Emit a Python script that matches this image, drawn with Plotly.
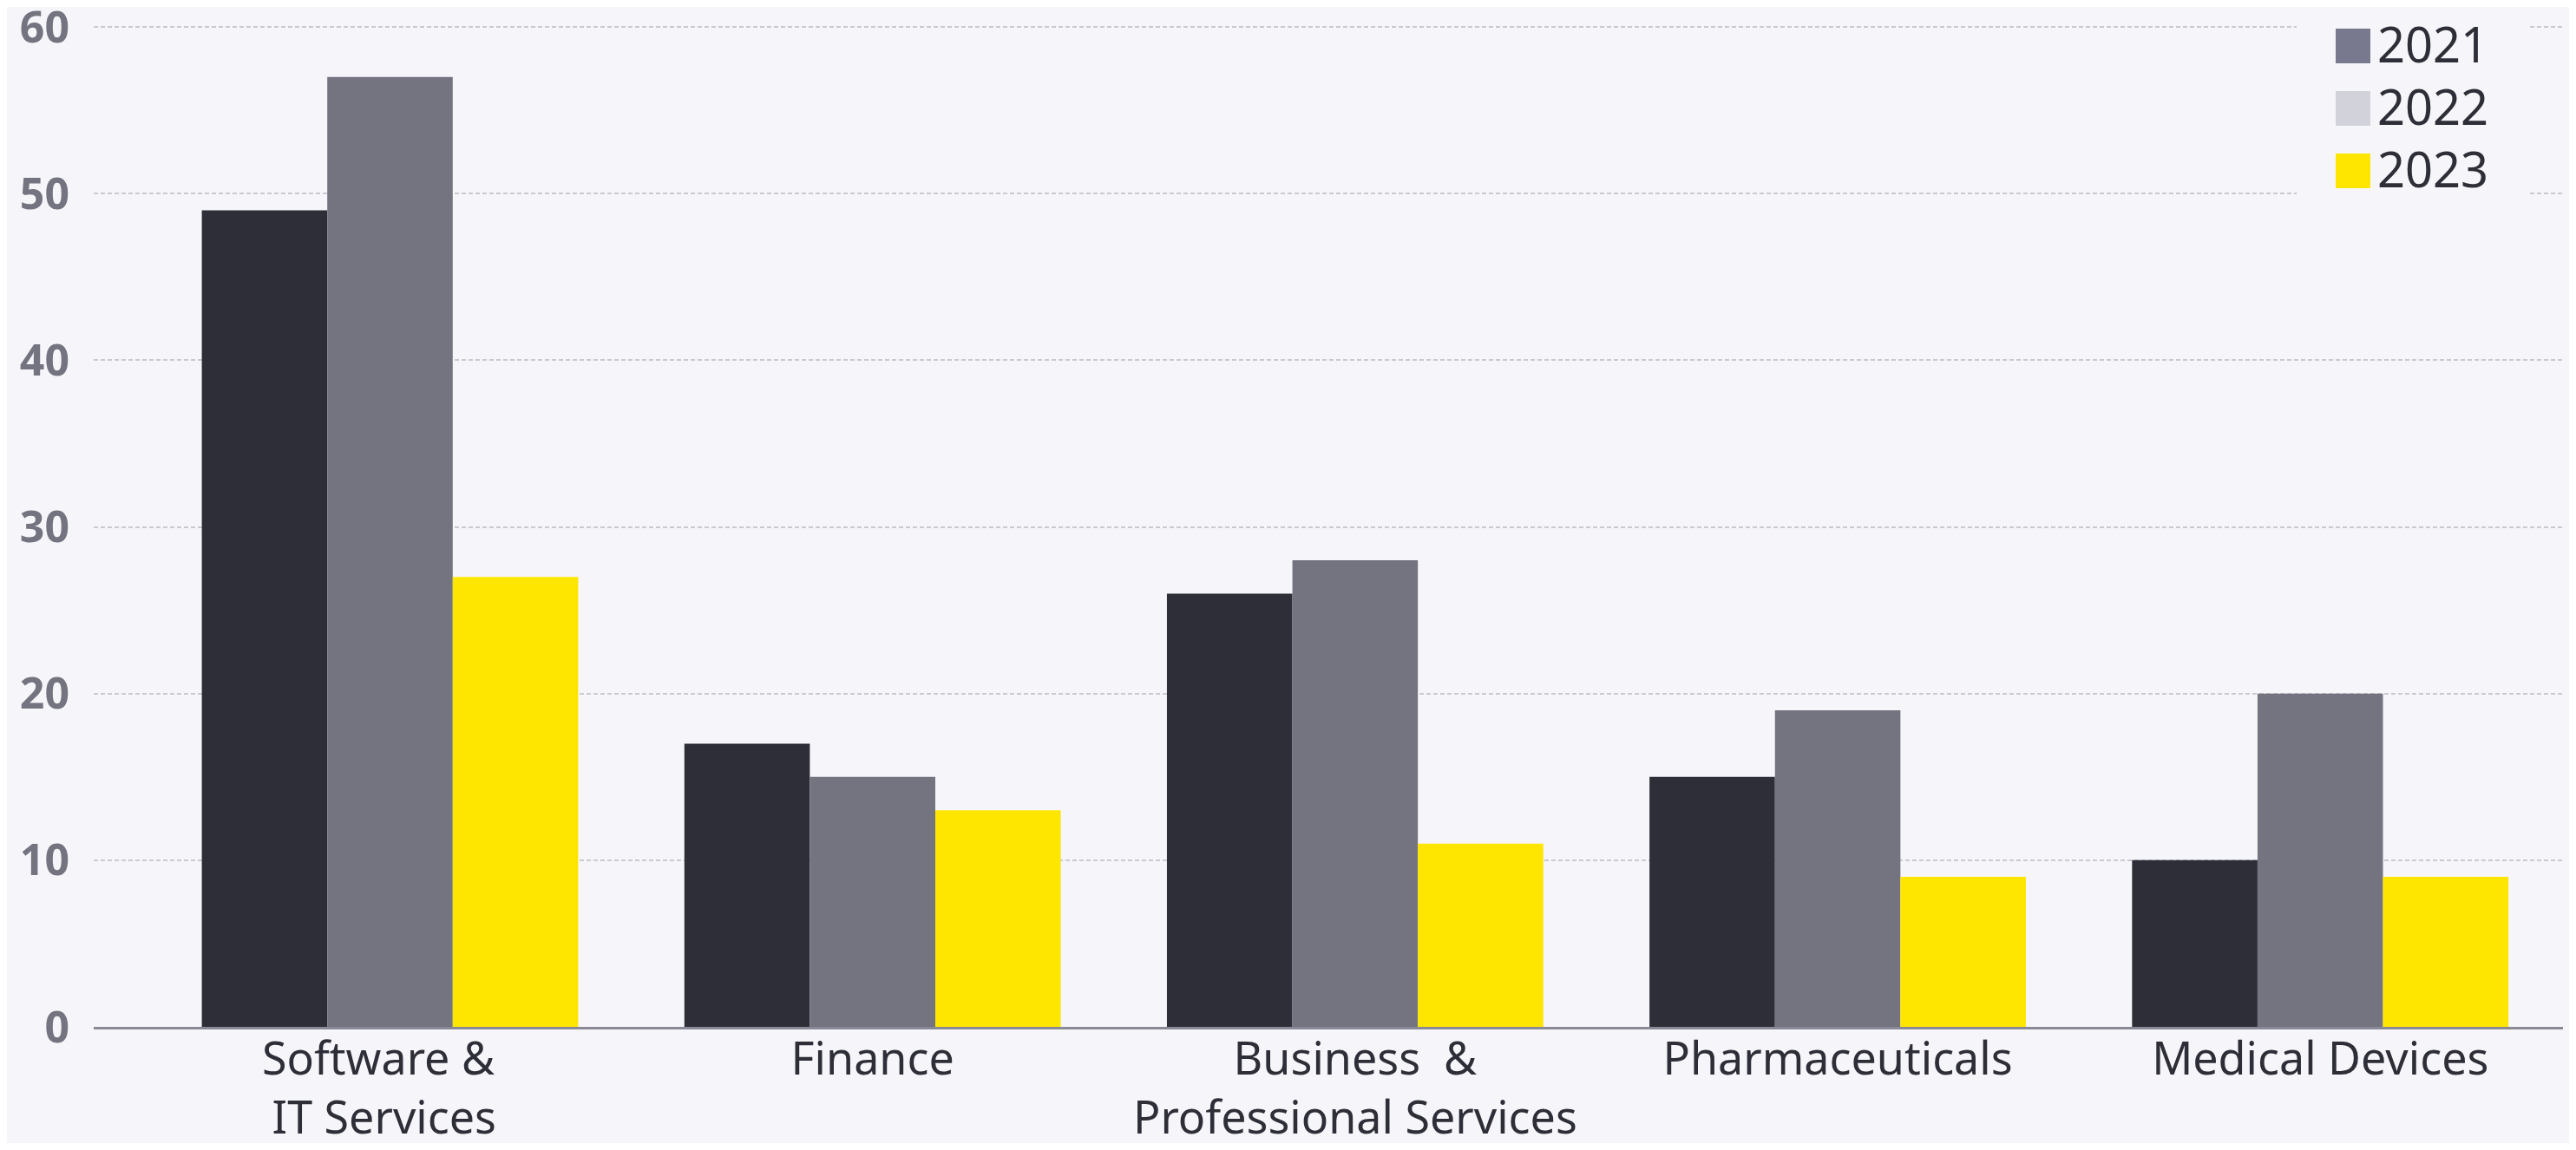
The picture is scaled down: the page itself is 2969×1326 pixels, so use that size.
import plotly.graph_objects as go

categories = [
    "Software &\u00a0\u00a0<br>IT Services\u00a0",
    "Finance",
    "Business \u00a0&<br>Professional Services",
    "Pharmaceuticals",
    "Medical Devices",
]
years = ["2021", "2022", "2023"]
values_2021 = [49, 17, 26, 15, 10]
values_2022 = [57, 15, 28, 19, 20]
values_2023 = [27, 13, 11, 9, 9]
y_ticks = [0, 10, 20, 30, 40, 50, 60]

BAR_COLORS = ["#2e2e38", "#747480", "#ffe600"]
LEGEND_COLORS = ["#78788f", "#d2d2da", "#ffe600"]
BG = "#f6f6fa"
FONT = "Noto Sans, Arial, sans-serif"

# page body keeps its 8px margin, so the figure is sized to fit the window
W, H = 2953, 1310
L, R, T, B = 100, 7, 4, 134


def px_x(px):
    return (px - L) / (W - L - R)


def px_y(py):
    return (H - B - py) / (H - T - B)


fig = go.Figure()
for name, vals, color in zip(years, [values_2021, values_2022, values_2023], BAR_COLORS):
    fig.add_trace(
        go.Bar(
            x=categories,
            y=vals,
            name=name,
            marker=dict(color=color, line_width=0),
            showlegend=False,
        )
    )

fig.update_layout(
    width=W,
    height=H,
    margin=dict(l=L, r=R, t=T, b=B),
    paper_bgcolor=BG,
    plot_bgcolor=BG,
    font=dict(family=FONT, color="#2e2e38"),
    barmode="group",
    bargap=0.22,
    bargroupgap=0,
)
fig.update_xaxes(
    range=[-0.614, 4.503],
    automargin=False,
    showgrid=False,
    showline=True,
    linecolor="#8a8a96",
    linewidth=3,
    ticks="",
    ticklabelstandoff=-10,
    tickfont=dict(size=52, color="#2e2e38"),
)
fig.update_yaxes(
    range=[0, 61],
    tickvals=y_ticks,
    automargin=False,
    showgrid=True,
    gridcolor="#c9c9d1",
    gridwidth=1.5,
    griddash="5px,3px",
    zeroline=False,
    ticks="",
    ticklabelstandoff=27,
    ticklabeloverflow="allow",
    tickfont=dict(size=50, color="#747480", weight="bold"),
)

# custom legend box (covers the gridlines behind it)
fig.add_shape(
    type="rect", xref="paper", yref="paper",
    x0=px_x(2639), x1=px_x(2905), y0=px_y(237), y1=px_y(T),
    fillcolor=BG, line_width=0, layer="above",
)
for i, (name, color) in enumerate(zip(years, LEGEND_COLORS)):
    cy = 45 + i * 72
    fig.add_shape(
        type="rect", xref="paper", yref="paper",
        x0=px_x(2684), x1=px_x(2724), y0=px_y(cy + 20), y1=px_y(cy - 20),
        fillcolor=color, line_width=0, layer="above",
    )
    fig.add_annotation(
        xref="paper", yref="paper", x=px_x(2730), y=px_y(cy - 3),
        text=name, showarrow=False, xanchor="left", yanchor="middle",
        font=dict(size=56, color="#2e2e38", family=FONT),
    )

fig.write_html("out.html")
